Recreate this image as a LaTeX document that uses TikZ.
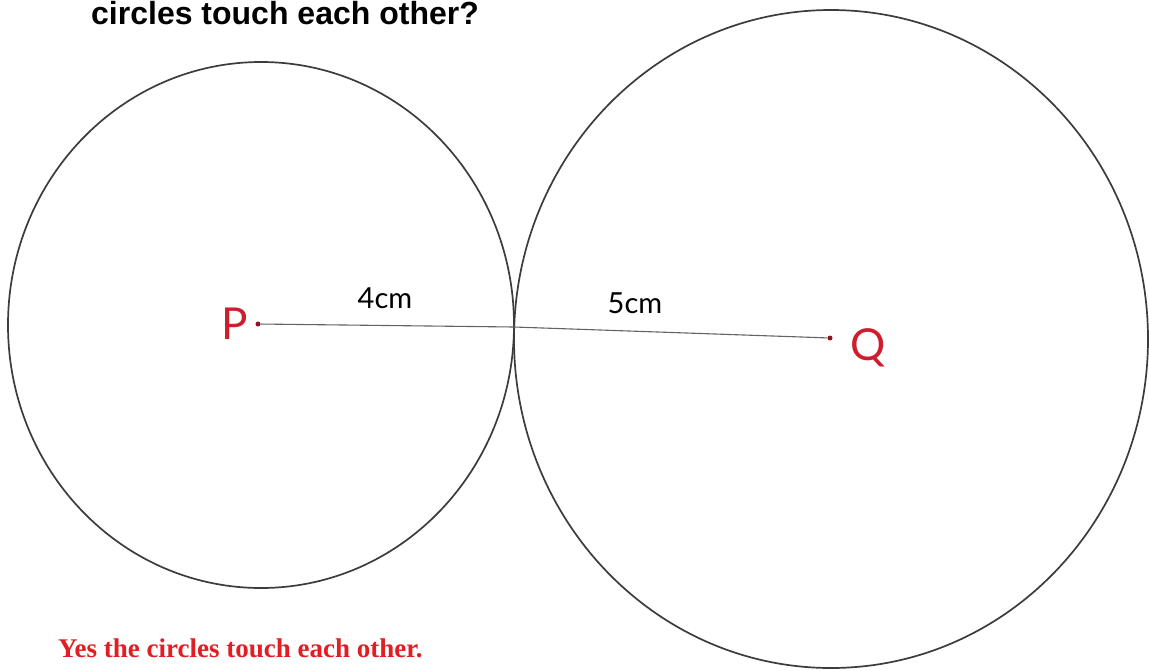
\documentclass[tikz,border=0pt]{standalone}
\usepackage{fontspec}
\setmainfont{Liberation Serif}
\newfontfamily\titlefont{Liberation Sans}
\newfontfamily\handfont{Lato}
\usepackage{xcolor}
\usetikzlibrary{positioning}
\definecolor{penred}{RGB}{205,30,45}
\definecolor{answred}{RGB}{225,30,35}
\definecolor{pencil}{RGB}{60,60,60}

\tikzset{
  rim/.style={draw=pencil, line width=1.7pt},
  radius line/.style={draw=pencil!80, line width=1.1pt},
  centre dot/.style={circle, fill=penred!70!black, inner sep=0pt, minimum size=5pt},
  hand/.style={font=\handfont\fontsize{29}{29}\selectfont},
  centre name/.style={text=penred, font=\handfont\fontsize{44}{44}\selectfont}
}

\begin{document}
\begin{tikzpicture}[x=1pt, y=-1pt]
  \useasboundingbox (0,0) rectangle (1149,670);
  \fill[white] (0,0) rectangle (1149,670);
  % question heading, cut off at the top
  \node[anchor=base west, inner sep=0pt, font=\titlefont\bfseries\fontsize{32}{32}\selectfont] (title) at (91,24) {circles touch each other?};
  % centres
  \node[centre dot] (P) at (258,324) {};
  \node[centre dot] (Q) at (830,338) {};
  \coordinate (T) at (514,327);
  % the two circles
  \draw[rim] (261,325) ellipse [x radius=253, y radius=263];
  \draw[rim] (831,339) ellipse [x radius=317, y radius=329];
  % radii
  \draw[radius line] (P) -- (T) -- (Q);
  \node[hand] (r1) at (385,298) {4cm};
  \node[hand] (r2) at (635,303) {5cm};
  \node[centre name, left=4pt of P] (Pname) {P};
  \node[centre name, right=14pt of Q, yshift=-10pt] (Qname) {Q};
  % answer
  \node[anchor=west, inner sep=0pt, text=answred, font=\bfseries\fontsize{27}{27}\selectfont] (answer) at (58,648) {Yes the circles touch each other.};
\end{tikzpicture}
\end{document}
